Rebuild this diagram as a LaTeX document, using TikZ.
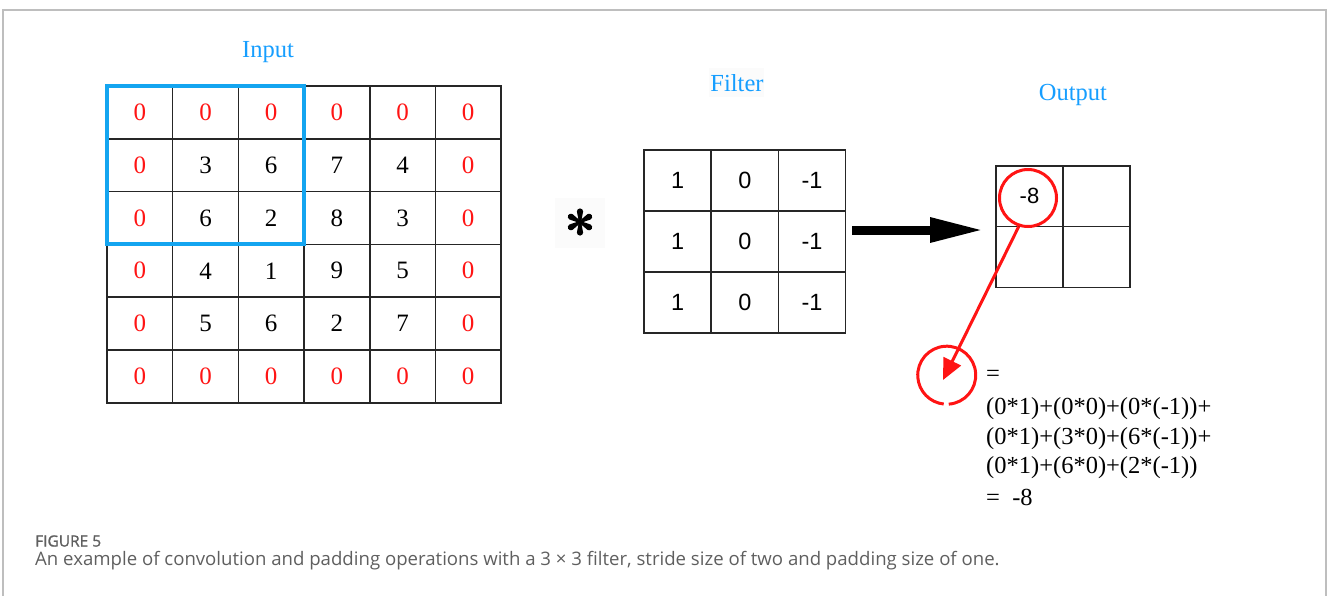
\documentclass[tikz,border=0pt]{standalone}
\usepackage{fontspec}
\setmainfont{Liberation Serif}
\newfontfamily\arialfont{Liberation Sans}
\newfontfamily\capfont{Open Sans}
\newfontfamily\capfontsb{Open Sans}[FakeBold=1.2]
\usetikzlibrary{arrows.meta,calc}

\definecolor{labelblue}{RGB}{22,158,255}
\definecolor{boxblue}{RGB}{20,165,240}
\definecolor{padred}{RGB}{255,20,20}
\definecolor{framegray}{RGB}{190,190,190}
\definecolor{capgray}{RGB}{95,95,95}

\tikzset{
  grid cell/.style={draw=black!85, line width=1.6pt, inner sep=0pt, outer sep=0pt},
  incell/.style={grid cell, minimum width=65.7pt, minimum height=52.8pt,
                 font=\fontsize{25}{29}\selectfont},
  fcell/.style={grid cell, minimum width=67.2pt, minimum height=60.9pt,
                font=\arialfont\fontsize{23.5}{27}\selectfont},
  ocell/.style={grid cell, minimum width=67pt, minimum height=60.8pt,
                font=\arialfont\fontsize{22}{26}\selectfont},
  title/.style={text=labelblue, font=\fontsize{24.5}{28}\selectfont},
  eqline/.style={anchor=west, inner sep=0pt, font=\fontsize{24.5}{28}\selectfont},
  mark ring/.style={draw=padred, line width=3pt, circle, inner sep=0pt},
}

\begin{document}
\begin{tikzpicture}[x=1pt, y=-1pt]
  \useasboundingbox (0,0) rectangle (1327,595);

  % outer frame of the figure panel
  \draw[framegray, line width=2pt] (3,600) -- (3,10) -- (1326,10) -- (1326,600);

  % ---- input matrix (6x6, zero padded) ----
  \node[title] (inlbl) at (268,52) {Input};
  \foreach \vals [count=\r] in {{0,0,0,0,0,0},{0,3,6,7,4,0},{0,6,2,8,3,0},
                                {0,4,1,9,5,0},{0,5,6,2,7,0},{0,0,0,0,0,0}} {
    \foreach \v [count=\c] in \vals {
      \pgfmathtruncatemacro\ispad{(\r==1)||(\r==6)||(\c==1)||(\c==6)}
      \ifnum\ispad=1 \def\cc{padred}\else\def\cc{black}\fi
      \node[incell, text=\cc] (in-\r-\c)
        at ({107+(\c-0.5)*65.67},{86+(\r-0.5)*52.8}) {\v};
    }
  }
  % receptive field of the first output value
  \draw[boxblue, line width=4pt] (in-1-1.north west) rectangle (in-3-3.south east);

  % ---- convolution operator ----
  \fill[gray!3] (555,198) rectangle (605,248);
  \coordinate (star) at (580,222);
  \foreach \a in {0,60,120,180,240,300} {
    \fill[black, rotate around={\a:(star)}]
      ($(star)+(-1.1,0)$) -- ($(star)+(-3.1,-10.5)$)
      arc[start angle=180, end angle=360, radius=3.1]
      -- ($(star)+(1.1,0)$) -- cycle;
  }

  % ---- filter (3x3) ----
  \fill[gray!3] (709,68) rectangle (764,97);
  \node[title] (flbl) at (737,83) {Filter};
  \foreach \vals [count=\r] in {{1,0,-1},{1,0,-1},{1,0,-1}} {
    \foreach \v [count=\c] in \vals {
      \node[fcell] (flt-\r-\c)
        at ({644+(\c-0.5)*67.2},{150+(\r-0.5)*60.9}) {\v};
    }
  }

  % ---- arrow towards the output ----
  \coordinate (arrS) at (852,230);
  \coordinate (arrE) at (984,230);
  \draw[line width=9pt, -{Triangle[length=54pt, width=23pt]}] (arrS) -- (arrE);

  % ---- output (2x2) ----
  \node[title] (olbl) at (1073,95) {Output};
  \node[ocell] (out-1-1) at (1029.5,196.1) {-8};
  \node[ocell] (out-1-2) at (1096.5,196.1) {};
  \node[ocell] (out-2-1) at (1029.5,256.9) {};
  \node[ocell] (out-2-2) at (1096.5,256.9) {};

  % highlighted result and its expansion
  \node[mark ring, minimum size=57pt] (hl) at (1028,198) {};
  \node[circle, inner sep=0pt, minimum size=58pt] (res) at (946.7,375) {};
  \draw[padred, line width=3pt] (res.-86) arc[start angle=-86, end angle=264, radius=29pt];
  \coordinate (tip) at (943,380);
  \draw[padred, line width=3pt, -{Triangle[length=21pt, width=19pt]}] (hl.-108) -- (tip);

  \node[eqline] (eq0) at (986,376) {=};
  \node[eqline] (eq1) at (986,409) {(0*1)+(0*0)+(0*(-1))+};
  \node[eqline] (eq2) at (986,439) {(0*1)+(3*0)+(6*(-1))+};
  \node[eqline] (eq3) at (986,468) {(0*1)+(6*0)+(2*(-1))};
  \node[eqline] (eq4) at (986,497) {=\ \ -8};

  % ---- caption ----
  \node[anchor=west, inner sep=0pt, text=capgray, font=\capfontsb\fontsize{15.5}{18}\selectfont]
    (capt) at (35,541) {FIGURE 5};
  \node[anchor=west, inner sep=0pt, text=capgray, font=\capfont\fontsize{18.6}{22}\selectfont]
    (capb) at (35,561) {An example of convolution and padding operations with a 3 × 3 filter, stride size of two and padding size of one.};
\end{tikzpicture}
\end{document}
